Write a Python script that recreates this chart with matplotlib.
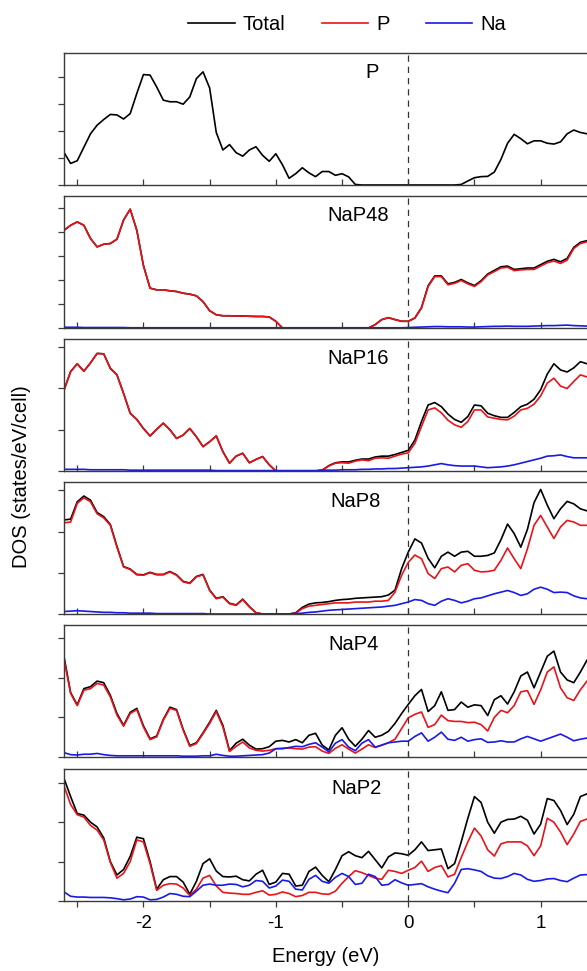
import matplotlib
matplotlib.use("Agg")
import matplotlib.pyplot as plt
import numpy as np
from matplotlib.ticker import MultipleLocator
from matplotlib.lines import Line2D

plt.rcParams['font.family'] = ['Liberation Sans', 'DejaVu Sans']
plt.rcParams['lines.solid_joinstyle'] = 'round'

# energy grid (eV)
energy = [-2.60, -2.55, -2.50, -2.45, -2.40, -2.35, -2.30, -2.25, -2.20, -2.15,
          -2.10, -2.05, -2.00, -1.95, -1.90, -1.85, -1.80, -1.75, -1.70, -1.65,
          -1.60, -1.55, -1.50, -1.45, -1.40, -1.35, -1.30, -1.25, -1.20, -1.15,
          -1.10, -1.05, -1.00, -0.95, -0.90, -0.85, -0.80, -0.75, -0.70, -0.65,
          -0.60, -0.55, -0.50, -0.45, -0.40, -0.35, -0.30, -0.25, -0.20, -0.15,
          -0.10, -0.05, 0.00, 0.05, 0.10, 0.15, 0.20, 0.25, 0.30, 0.35,
          0.40, 0.45, 0.50, 0.55, 0.60, 0.65, 0.70, 0.75, 0.80, 0.85,
          0.90, 0.95, 1.00, 1.05, 1.10, 1.15, 1.20, 1.25, 1.30, 1.35]

# P
p_total = [1.21, 0.80, 0.90, 1.40, 1.90, 2.22, 2.43, 2.62, 2.60, 2.45,
           2.65, 3.40, 4.10, 4.08, 3.64, 3.15, 3.09, 3.09, 3.00, 3.27,
           3.95, 4.20, 3.60, 1.95, 1.30, 1.50, 1.20, 1.07, 1.30, 1.42,
           1.10, 0.88, 1.16, 0.75, 0.25, 0.42, 0.64, 0.45, 0.31, 0.50,
           0.50, 0.36, 0.42, 0.30, 0.02, 0.0, 0.0, 0.0, 0.0, 0.0,
           0.0, 0.0, 0.0, 0.0, 0.0, 0.0, 0.0, 0.0, 0.0, 0.0,
           0.02, 0.15, 0.27, 0.31, 0.32, 0.48, 0.95, 1.55, 1.88, 1.72,
           1.53, 1.64, 1.64, 1.55, 1.52, 1.60, 1.90, 2.04, 1.95, 1.90]

# NaP48
nap48_total = [4.07, 4.28, 4.42, 4.28, 3.73, 3.38, 3.49, 3.52, 3.70, 4.50,
               4.95, 4.07, 2.60, 1.66, 1.59, 1.59, 1.55, 1.52, 1.45, 1.41,
               1.34, 1.10, 0.72, 0.55, 0.51, 0.51, 0.50, 0.50, 0.49, 0.48,
               0.48, 0.46, 0.28, 0.0, 0.0, 0.0, 0.0, 0.0, 0.0, 0.0,
               0.0, 0.0, 0.0, 0.0, 0.0, 0.0, 0.0, 0.14, 0.35, 0.43,
               0.35, 0.28, 0.28, 0.42, 0.85, 1.76, 2.17, 2.17, 1.84, 1.90,
               2.02, 1.88, 1.77, 1.97, 2.25, 2.40, 2.55, 2.58, 2.44, 2.47,
               2.50, 2.50, 2.64, 2.78, 2.86, 2.76, 2.90, 3.36, 3.57, 3.64]
nap48_p = [4.07, 4.28, 4.42, 4.28, 3.73, 3.38, 3.49, 3.52, 3.70, 4.50,
           4.95, 4.07, 2.60, 1.66, 1.59, 1.59, 1.55, 1.52, 1.45, 1.41,
           1.34, 1.10, 0.72, 0.55, 0.51, 0.51, 0.50, 0.50, 0.49, 0.48,
           0.48, 0.46, 0.28, 0.0, 0.0, 0.0, 0.0, 0.0, 0.0, 0.0,
           0.0, 0.0, 0.0, 0.0, 0.0, 0.0, 0.0, 0.14, 0.35, 0.43,
           0.35, 0.28, 0.28, 0.41, 0.83, 1.73, 2.14, 2.14, 1.80, 1.86,
           1.98, 1.84, 1.73, 1.93, 2.21, 2.35, 2.50, 2.53, 2.39, 2.42,
           2.44, 2.44, 2.58, 2.72, 2.79, 2.69, 2.83, 3.31, 3.52, 3.59]
nap48_na = [0.03, 0.03, 0.03, 0.02, 0.02, 0.02, 0.02, 0.02, 0.02, 0.02,
            0.01, 0.01, 0.01, 0.01, 0.01, 0.01, 0.01, 0.01, 0.01, 0.01,
            0.01, 0.01, 0.01, 0.01, 0.01, 0.01, 0.01, 0.01, 0.01, 0.01,
            0.01, 0.01, 0.01, 0.01, 0.01, 0.01, 0.01, 0.01, 0.01, 0.01,
            0.01, 0.01, 0.01, 0.01, 0.01, 0.01, 0.01, 0.01, 0.01, 0.01,
            0.01, 0.01, 0.02, 0.03, 0.04, 0.05, 0.06, 0.06, 0.05, 0.05,
            0.05, 0.04, 0.04, 0.05, 0.06, 0.07, 0.07, 0.08, 0.07, 0.07,
            0.07, 0.08, 0.09, 0.10, 0.10, 0.11, 0.12, 0.10, 0.09, 0.08]

# NaP16
nap16_total = [1.96, 2.41, 2.60, 2.42, 2.62, 2.85, 2.84, 2.49, 2.33, 1.88,
               1.40, 1.25, 1.03, 0.85, 1.01, 1.16, 1.00, 0.79, 0.87, 1.03,
               0.83, 0.59, 0.71, 0.85, 0.47, 0.19, 0.36, 0.43, 0.20, 0.28,
               0.35, 0.15, 0.0, 0.0, 0.0, 0.0, 0.0, 0.0, 0.0, 0.02,
               0.13, 0.20, 0.22, 0.22, 0.26, 0.29, 0.29, 0.34, 0.36, 0.36,
               0.40, 0.45, 0.50, 0.75, 1.20, 1.60, 1.66, 1.56, 1.38, 1.25,
               1.18, 1.32, 1.60, 1.58, 1.40, 1.34, 1.30, 1.30, 1.42, 1.56,
               1.62, 1.74, 1.97, 2.35, 2.60, 2.45, 2.40, 2.50, 2.65, 2.60]
nap16_p = [1.96, 2.41, 2.60, 2.42, 2.62, 2.85, 2.84, 2.49, 2.33, 1.88,
           1.40, 1.25, 1.03, 0.85, 1.01, 1.16, 1.00, 0.79, 0.87, 1.03,
           0.83, 0.59, 0.71, 0.85, 0.47, 0.19, 0.36, 0.43, 0.20, 0.28,
           0.35, 0.15, 0.0, 0.0, 0.0, 0.0, 0.0, 0.0, 0.0, 0.02,
           0.12, 0.19, 0.20, 0.19, 0.24, 0.27, 0.25, 0.31, 0.32, 0.31,
           0.36, 0.41, 0.44, 0.67, 1.08, 1.48, 1.53, 1.41, 1.23, 1.12,
           1.06, 1.20, 1.48, 1.48, 1.31, 1.28, 1.25, 1.24, 1.33, 1.48,
           1.52, 1.62, 1.82, 2.13, 2.25, 2.06, 2.00, 2.17, 2.33, 2.28]
nap16_na = [0.04, 0.04, 0.04, 0.04, 0.03, 0.03, 0.03, 0.03, 0.03, 0.03,
            0.02, 0.02, 0.02, 0.02, 0.02, 0.02, 0.02, 0.02, 0.02, 0.02,
            0.02, 0.02, 0.02, 0.01, 0.01, 0.01, 0.01, 0.01, 0.01, 0.01,
            0.01, 0.01, 0.01, 0.01, 0.01, 0.01, 0.01, 0.01, 0.01, 0.02,
            0.02, 0.02, 0.03, 0.03, 0.03, 0.04, 0.04, 0.05, 0.05, 0.06,
            0.06, 0.07, 0.08, 0.09, 0.10, 0.12, 0.15, 0.18, 0.15, 0.13,
            0.12, 0.12, 0.12, 0.10, 0.08, 0.09, 0.10, 0.12, 0.15, 0.19,
            0.23, 0.27, 0.31, 0.36, 0.37, 0.39, 0.35, 0.32, 0.32, 0.32]

# NaP8
nap8_total = [2.28, 2.30, 2.72, 2.86, 2.76, 2.46, 2.36, 2.17, 1.64, 1.15,
              1.09, 0.96, 0.95, 1.01, 0.96, 0.96, 1.03, 0.95, 0.79, 0.75,
              0.91, 0.96, 0.58, 0.38, 0.42, 0.26, 0.22, 0.36, 0.18, 0.03,
              0.0, 0.0, 0.0, 0.0, 0.0, 0.03, 0.16, 0.24, 0.27, 0.28,
              0.30, 0.33, 0.35, 0.36, 0.38, 0.39, 0.40, 0.41, 0.42, 0.46,
              0.58, 1.10, 1.50, 1.82, 1.72, 1.35, 1.12, 1.40, 1.50, 1.40,
              1.50, 1.52, 1.40, 1.40, 1.42, 1.48, 1.80, 2.18, 1.95, 1.62,
              2.05, 2.70, 3.02, 2.64, 2.31, 2.55, 2.73, 2.67, 2.55, 2.50]
nap8_p = [2.21, 2.23, 2.68, 2.82, 2.72, 2.43, 2.33, 2.15, 1.62, 1.14,
          1.08, 0.95, 0.94, 1.00, 0.95, 0.95, 1.02, 0.94, 0.78, 0.74,
          0.90, 0.95, 0.57, 0.37, 0.41, 0.25, 0.21, 0.35, 0.17, 0.03,
          0.0, 0.0, 0.0, 0.0, 0.0, 0.02, 0.13, 0.19, 0.21, 0.23,
          0.25, 0.27, 0.27, 0.27, 0.29, 0.29, 0.29, 0.31, 0.31, 0.33,
          0.53, 0.94, 1.25, 1.43, 1.34, 0.98, 0.86, 1.10, 1.14, 1.02,
          1.18, 1.22, 1.06, 1.02, 1.03, 1.06, 1.30, 1.60, 1.34, 1.10,
          1.58, 2.15, 2.39, 2.11, 1.83, 2.11, 2.27, 2.23, 2.15, 2.15]
nap8_na = [0.06, 0.07, 0.08, 0.07, 0.06, 0.05, 0.04, 0.04, 0.03, 0.03,
           0.02, 0.02, 0.02, 0.02, 0.01, 0.01, 0.01, 0.01, 0.01, 0.01,
           0.01, 0.01, 0.0, 0.0, 0.0, 0.0, 0.0, 0.0, 0.0, 0.0,
           0.0, 0.0, 0.0, 0.0, 0.0, 0.01, 0.02, 0.04, 0.05, 0.07,
           0.09, 0.10, 0.11, 0.12, 0.13, 0.14, 0.15, 0.16, 0.17, 0.19,
           0.21, 0.25, 0.29, 0.35, 0.33, 0.25, 0.21, 0.31, 0.37, 0.33,
           0.27, 0.31, 0.37, 0.39, 0.44, 0.49, 0.53, 0.57, 0.52, 0.45,
           0.49, 0.60, 0.65, 0.60, 0.52, 0.53, 0.52, 0.44, 0.39, 0.37]

# NaP4
nap4_total = [2.54, 1.63, 1.32, 1.73, 1.78, 1.92, 1.88, 1.56, 1.10, 0.80,
              1.13, 1.23, 0.79, 0.46, 0.53, 0.95, 1.26, 1.20, 0.70, 0.29,
              0.36, 0.61, 0.88, 1.18, 0.80, 0.16, 0.35, 0.45, 0.30, 0.20,
              0.21, 0.26, 0.40, 0.42, 0.38, 0.44, 0.36, 0.55, 0.60, 0.30,
              0.18, 0.55, 0.74, 0.45, 0.27, 0.45, 0.67, 0.50, 0.55, 0.65,
              0.85, 1.10, 1.33, 1.55, 1.71, 1.15, 1.30, 1.65, 1.18, 1.20,
              1.39, 1.26, 1.32, 1.30, 1.05, 1.45, 1.55, 1.34, 1.65, 2.05,
              2.15, 1.75, 2.15, 2.55, 2.68, 2.15, 1.95, 1.88, 2.15, 2.45]
nap4_p = [2.47, 1.61, 1.30, 1.69, 1.73, 1.86, 1.82, 1.52, 1.06, 0.78,
          1.10, 1.20, 0.76, 0.44, 0.51, 0.93, 1.23, 1.18, 0.68, 0.27,
          0.34, 0.59, 0.85, 1.15, 0.76, 0.14, 0.27, 0.38, 0.23, 0.17,
          0.15, 0.17, 0.21, 0.22, 0.23, 0.21, 0.20, 0.25, 0.26, 0.15,
          0.09, 0.22, 0.31, 0.20, 0.10, 0.20, 0.31, 0.24, 0.30, 0.36,
          0.45, 0.72, 0.99, 1.08, 1.14, 0.75, 0.82, 1.06, 0.92, 0.90,
          0.90, 0.87, 0.88, 0.82, 0.66, 1.00, 1.18, 1.12, 1.30, 1.65,
          1.68, 1.33, 1.70, 2.15, 2.28, 1.75, 1.50, 1.43, 1.70, 1.92]
nap4_na = [0.11, 0.06, 0.05, 0.07, 0.07, 0.09, 0.06, 0.04, 0.03, 0.03,
           0.03, 0.03, 0.03, 0.03, 0.03, 0.03, 0.03, 0.03, 0.02, 0.02,
           0.02, 0.03, 0.03, 0.07, 0.04, 0.02, 0.02, 0.03, 0.04, 0.05,
           0.06, 0.10, 0.21, 0.21, 0.24, 0.27, 0.26, 0.32, 0.36, 0.25,
           0.13, 0.35, 0.44, 0.25, 0.16, 0.35, 0.44, 0.25, 0.30, 0.36,
           0.38, 0.40, 0.40, 0.52, 0.61, 0.40, 0.50, 0.63, 0.45, 0.42,
           0.50, 0.40, 0.44, 0.46, 0.37, 0.38, 0.41, 0.38, 0.38, 0.46,
           0.52, 0.46, 0.40, 0.46, 0.52, 0.58, 0.50, 0.41, 0.45, 0.48]

# NaP2
nap2_total = [3.11, 2.65, 2.22, 2.18, 2.00, 1.88, 1.60, 1.00, 0.66, 0.80,
              1.13, 1.62, 1.58, 1.00, 0.30, 0.54, 0.62, 0.62, 0.48, 0.17,
              0.50, 0.95, 1.07, 0.76, 0.62, 0.61, 0.63, 0.54, 0.51, 0.68,
              0.78, 0.42, 0.48, 0.70, 0.68, 0.38, 0.40, 0.75, 0.86, 0.65,
              0.49, 0.80, 1.15, 1.25, 1.15, 1.10, 1.26, 1.05, 0.84, 1.12,
              1.22, 1.20, 1.16, 1.30, 1.50, 1.28, 1.30, 1.32, 0.82, 0.95,
              1.50, 2.10, 2.65, 2.50, 2.00, 1.72, 2.00, 2.07, 2.08, 2.15,
              2.05, 1.70, 1.95, 2.60, 2.55, 2.30, 1.94, 2.20, 2.65, 2.72]
nap2_p = [2.92, 2.45, 2.19, 2.13, 1.92, 1.80, 1.55, 0.98, 0.58, 0.70,
          1.00, 1.55, 1.50, 0.95, 0.27, 0.40, 0.44, 0.43, 0.33, 0.14,
          0.30, 0.58, 0.65, 0.38, 0.22, 0.20, 0.19, 0.17, 0.17, 0.22,
          0.26, 0.15, 0.17, 0.23, 0.19, 0.11, 0.14, 0.22, 0.22, 0.18,
          0.17, 0.25, 0.45, 0.62, 0.77, 0.72, 0.65, 0.58, 0.55, 0.78,
          0.75, 0.70, 0.78, 0.85, 1.01, 0.75, 0.85, 0.90, 0.61, 0.68,
          1.10, 1.50, 1.85, 1.65, 1.30, 1.14, 1.45, 1.50, 1.50, 1.50,
          1.40, 1.15, 1.40, 2.10, 2.00, 1.75, 1.43, 1.70, 2.02, 2.08]
nap2_na = [0.23, 0.12, 0.10, 0.10, 0.09, 0.09, 0.09, 0.08, 0.06, 0.03,
           0.05, 0.11, 0.10, 0.03, 0.04, 0.10, 0.19, 0.17, 0.12, 0.11,
           0.25, 0.40, 0.43, 0.40, 0.40, 0.43, 0.42, 0.36, 0.40, 0.52,
           0.50, 0.33, 0.38, 0.53, 0.50, 0.30, 0.28, 0.55, 0.65, 0.50,
           0.45, 0.60, 0.70, 0.62, 0.42, 0.45, 0.68, 0.62, 0.40, 0.42,
           0.54, 0.46, 0.40, 0.42, 0.44, 0.36, 0.30, 0.25, 0.21, 0.45,
           0.80, 0.82, 0.79, 0.75, 0.64, 0.58, 0.57, 0.62, 0.70, 0.66,
           0.55, 0.50, 0.52, 0.56, 0.57, 0.52, 0.49, 0.58, 0.66, 0.67]

labels = ["P", "NaP48", "NaP16", "NaP8", "NaP4", "NaP2"]
label_x = [-0.27, -0.38, -0.38, -0.40, -0.41, -0.39]
totals = [p_total, nap48_total, nap16_total, nap8_total, nap4_total, nap2_total]
p_parts = [None, nap48_p, nap16_p, nap8_p, nap4_p, nap2_p]
na_parts = [None, nap48_na, nap16_na, nap8_na, nap4_na, nap2_na]
ytop = [4.9, 5.5, 3.2, 3.2, 3.34, 3.35]

W, H = 587, 971
fig = plt.figure(figsize=(W / 100, H / 100), dpi=100)

tops = [53, 196, 339, 482, 625, 769]
ph = 132
spine_col = "#3a3a3a"

axes = []
for i in range(6):
    ax = fig.add_axes([64 / W, 1 - (tops[i] + ph) / H, 1 - 64 / W, ph / H])
    ax.plot(energy, totals[i], color="black", lw=1.2)
    if p_parts[i] is not None:
        ax.plot(energy, p_parts[i], color="#e8141a", lw=1.2)
        ax.plot(energy, na_parts[i], color="#1a1ae6", lw=1.2)
    ax.axvline(0, color="#333333", lw=0.9, ls=(0, (5, 4)))
    ax.set_xlim(-2.6, 1.35)
    ax.set_ylim(0, ytop[i])
    ax.xaxis.set_major_locator(MultipleLocator(1))
    ax.xaxis.set_minor_locator(MultipleLocator(0.5))
    ax.yaxis.set_major_locator(MultipleLocator(1))
    ax.set_yticklabels([])
    ax.tick_params(axis="y", direction="out", length=4, width=0.9, color=spine_col)
    xdir = "out" if i == 5 else "in"
    ax.tick_params(axis="x", which="both", direction=xdir, length=4, width=0.9,
                   color=spine_col, labelsize=13.5, pad=6)
    if i < 5:
        ax.set_xticklabels([])
    ax.spines["right"].set_visible(False)
    for s in ["left", "top", "bottom"]:
        ax.spines[s].set_color(spine_col)
        ax.spines[s].set_linewidth(1.0)
    ax.text(label_x[i], 0.855, labels[i], transform=ax.get_xaxis_transform(),
            ha="center", va="center", fontsize=14.5)
    axes.append(ax)

axes[-1].set_xticks([-2, -1, 0, 1])
axes[-1].set_xticklabels(["-2", "-1", "0", "1"])
axes[-1].set_xlabel("Energy (eV)", fontsize=14.5, labelpad=11)

fig.text(22 / W, 1 - 477 / H, "DOS (states/eV/cell)", rotation=90,
         ha="center", va="center", fontsize=14.5)

handles = [Line2D([], [], color="black", lw=1.2),
           Line2D([], [], color="#e8141a", lw=1.2),
           Line2D([], [], color="#1a1ae6", lw=1.2)]
fig.legend(handles, ["Total", "P", "Na"], loc="center",
           bbox_to_anchor=(347 / W, 1 - 25 / H), ncol=3, frameon=False,
           fontsize=14.5, handlelength=2.3, handletextpad=0.4, columnspacing=1.8)

fig.savefig("out.png", dpi=100)
